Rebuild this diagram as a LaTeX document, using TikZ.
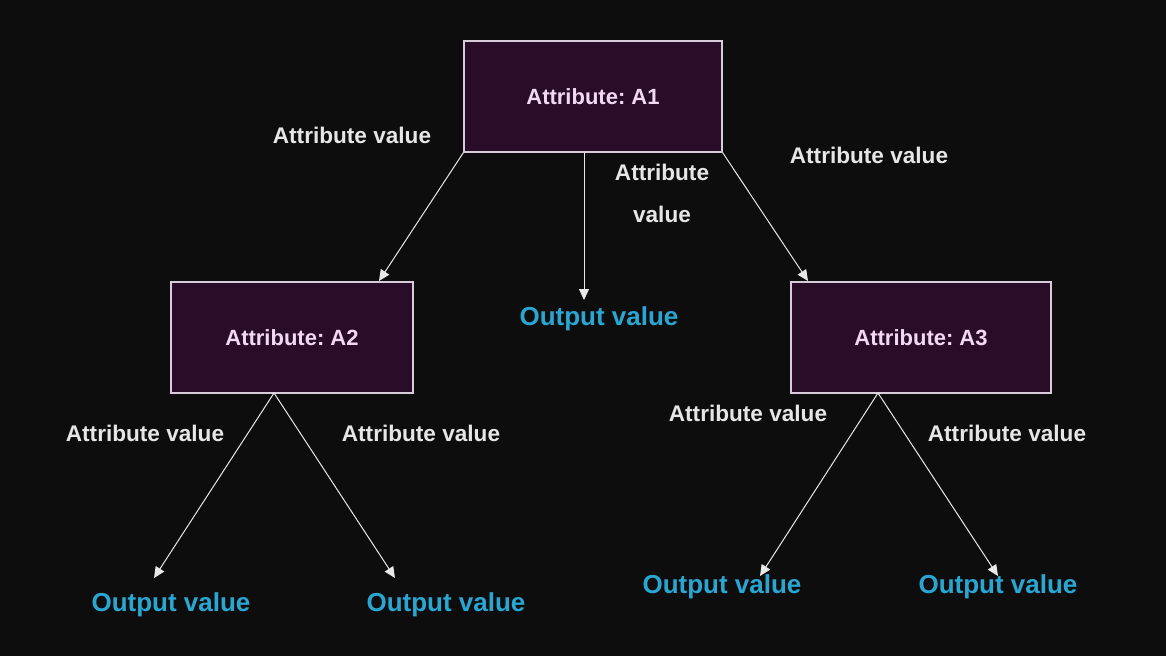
\documentclass[tikz,border=0pt]{standalone}
\usepackage{fontspec}
\setmainfont{Liberation Sans}
\usetikzlibrary{arrows.meta}
\definecolor{bgc}{HTML}{0D0D0D}
\definecolor{boxfill}{HTML}{280C28}
\definecolor{boxline}{HTML}{D8CCDA}
\definecolor{boxtext}{HTML}{F2D8F2}
\definecolor{attrtext}{HTML}{E6E6E6}
\definecolor{outtext}{HTML}{2AA6D2}
\definecolor{arrowc}{HTML}{E8E8E8}
\frenchspacing
\begin{document}
\begin{tikzpicture}[x=1pt,y=-1pt,
  attrbox/.style={draw=boxline, line width=1.2pt, fill=boxfill, minimum height=111pt, inner sep=0pt,
    text=boxtext, font=\fontsize{22}{26}\selectfont\bfseries},
  attrlabel/.style={text=attrtext, anchor=base, inner sep=0pt, font=\fontsize{22.6}{26}\selectfont\bfseries},
  outlabel/.style={text=outtext, anchor=base, inner sep=0pt, font=\fontsize{26}{30}\selectfont\bfseries},
  conn/.style={draw=arrowc, line width=1pt, -{Triangle[length=11pt,width=10pt]}}
]
\fill[bgc] (0,0) rectangle (1166,656);
\useasboundingbox (0,0) rectangle (1166,656);

% boxes
\node[attrbox, minimum width=258pt] (A1) at (593,96.5) {Attribute: A1};
\node[attrbox, minimum width=242pt] (A2) at (292,337.5) {Attribute: A2};
\node[attrbox, minimum width=260pt] (A3) at (921,337.5) {Attribute: A3};

% outputs
\node[outlabel] (O1) at (599,325) {Output value};
\node[outlabel] (O2) at (171,611) {Output value};
\node[outlabel] (O3) at (446,611) {Output value};
\node[outlabel] (O4) at (722,593) {Output value};
\node[outlabel] (O5) at (998,593) {Output value};

% attribute value labels
\node[attrlabel] (L1) at (352,143) {Attribute value};
\node[attrlabel] (L2) at (869,163) {Attribute value};
\node[attrlabel] (L3a) at (662,180) {Attribute};
\node[attrlabel] (L3b) at (662,222) {value};
\node[attrlabel] (L4) at (145,441) {Attribute value};
\node[attrlabel] (L5) at (421,441) {Attribute value};
\node[attrlabel] (L6) at (748,421) {Attribute value};
\node[attrlabel] (L7) at (1007,441) {Attribute value};

% connector end points
\coordinate (s1) at (584,152.5);
\coordinate (t1) at (379,281);
\coordinate (t2) at (584,300);
\coordinate (t3) at (808,281);
\coordinate (s2) at (274,393);
\coordinate (t4) at (154,578);
\coordinate (t5) at (395,578);
\coordinate (s3) at (878,393);
\coordinate (t6) at (760,576);
\coordinate (t7) at (998,576);

\draw[conn] (A1.south west) -- (t1);
\draw[conn] (s1) -- (t2);
\draw[conn] (A1.south east) -- (t3);
\draw[conn] (s2) -- (t4);
\draw[conn] (s2) -- (t5);
\draw[conn] (s3) -- (t6);
\draw[conn] (s3) -- (t7);
\end{tikzpicture}
\end{document}
